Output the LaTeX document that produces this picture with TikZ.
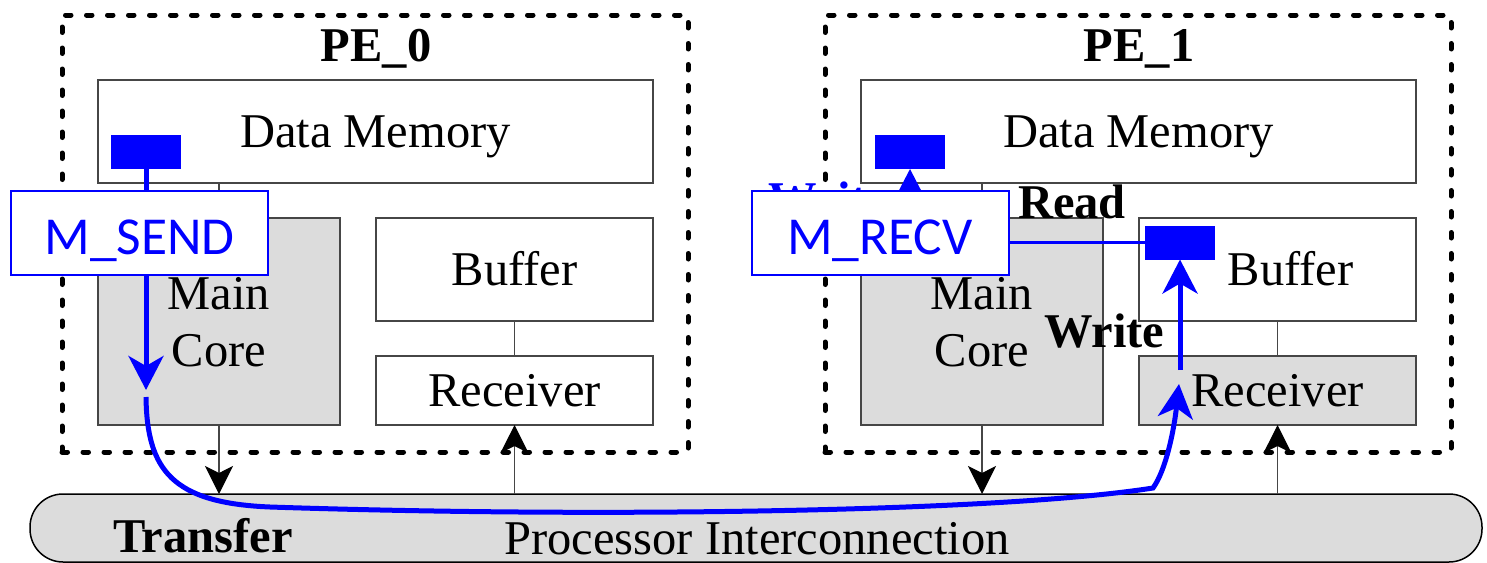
\documentclass[tikz,border=0pt]{standalone}
\usepackage{fontspec}
\setmainfont{Liberation Serif}
\newfontfamily\calibrifont{Carlito}
\usetikzlibrary{arrows.meta}
\definecolor{coregray}{RGB}{220,220,220}
\definecolor{edgegray}{RGB}{70,70,70}
\definecolor{msgblue}{RGB}{0,0,255}

\begin{document}
\begin{tikzpicture}[x=0.5pt,y=-0.5pt,
  every node/.style={inner sep=0pt, outer sep=0pt},
  txt/.style={font=\fontsize{24.25}{28.5}\selectfont},
  btxt/.style={font=\fontsize{24.25}{28.5}\selectfont\bfseries},
  unitbox/.style={draw=edgegray, line width=0.75pt, txt, text height=16pt, text depth=0pt},
  corebox/.style={draw=edgegray, fill=coregray, line width=0.75pt, txt, align=center, text depth=0pt},
  pebox/.style={draw=black, line width=2.5pt, dash pattern=on 2.75pt off 7.75pt, line cap=round},
  busbox/.style={draw=black, fill=coregray, line width=0.75pt, rounded corners=16.5pt},
  wire/.style={draw=edgegray, line width=0.6pt},
  wirearrow/.style={wire, -{Stealth[length=14pt, width=14pt, inset=3.5pt, black]}},
  flow/.style={draw=msgblue, line width=2.5pt},
  flowarrow/.style={flow, -{Stealth[length=17pt, width=17.5pt, inset=5pt]}},
  slot/.style={fill=msgblue, minimum width=35pt, minimum height=17pt},
  apibox/.style={draw=msgblue, fill=white, line width=1pt, text=msgblue,
    font=\fontsize{26.7}{30}\calibrifont, text height=21.5pt, text depth=0pt,
    minimum width=128.5pt, minimum height=42pt}
]
\useasboundingbox (0,0) rectangle (1487,562);

% processing element frames
\node[pebox, minimum width=313pt, minimum height=218.5pt] (pe0) at (375,233.5) {};
\node[pebox, minimum width=313pt, minimum height=218.5pt] (pe1) at (1138,233.5) {};
\node[btxt, anchor=base] (pe0title) at (376,61) {PE\_0};
\node[btxt, anchor=base] (pe1title) at (1139,61) {PE\_1};

% interconnection bus
\node[busbox, minimum width=726pt, minimum height=34pt] (bus) at (756,528) {};
\node[btxt, anchor=base west] (transfer) at (113,552) {Transfer};
\node[txt, anchor=base] (buslabel) at (757,554) {Processor Interconnection};

% PE_0 blocks
\node[unitbox, fill=white, minimum width=277.5pt, minimum height=51.5pt] (dm0) at (375.5,131.5) {Data Memory};
\node[corebox, minimum width=121pt, minimum height=103.5pt] (mc0) at (219,321.5) {Main\\Core};
\node[unitbox, fill=white, minimum width=138.5pt, minimum height=51.5pt] (bf0) at (514.5,269.5) {Buffer};
\node[unitbox, fill=white, minimum width=138.5pt, minimum height=34.5pt] (rc0) at (514.5,390.5) {Receiver};

% PE_1 blocks
\node[unitbox, fill=white, minimum width=277.5pt, minimum height=51.5pt] (dm1) at (1138.5,131.5) {Data Memory};
\node[corebox, minimum width=121pt, minimum height=103.5pt] (mc1) at (982,321.5) {Main\\Core};
\node[unitbox, fill=white, minimum width=138.5pt, minimum height=51.5pt] (bf1) at (1277.5,269.5) {\hspace*{13pt}Buffer};
\node[unitbox, fill=coregray, minimum width=138.5pt, minimum height=34.5pt] (rc1) at (1277.5,390.5) {Receiver};

% internal links and bus links
\draw[wire] (mc0.north |- dm0.south) -- (mc0.north);
\draw[wire] (bf0.south) -- (rc0.north);
\draw[wire] (mc1.north |- dm1.south) -- (mc1.north);
\draw[wire] (bf1.south) -- (rc1.north);
\draw[wirearrow] (mc0.south) -- (mc0.south |- bus.north);
\draw[wirearrow] (rc0.south |- bus.north) -- (rc0.south);
\draw[wirearrow] (mc1.south) -- (mc1.south |- bus.north);
\draw[wirearrow] (rc1.south |- bus.north) -- (rc1.south);

% message slots
\node[slot] (s0) at (146,152) {};
\node[slot] (d1) at (910,152) {};
\node[slot] (b1) at (1180,242.5) {};

% message path
\coordinate (sendtip) at (146,390);
\coordinate (sendout) at (146,397);
\coordinate (recvtip) at (1179,384);
\coordinate (recvout) at (1180,370);
\coordinate (recvmid) at (880,233);
\draw[flowarrow] (s0.south) -- (sendtip);
\draw[flowarrow] (sendout) .. controls (147,470) and (172,503) .. (270,507)
  .. controls (600,518) and (1000,512) .. (1153,488)
  .. controls (1166,470) and (1174,430) .. (recvtip);
\draw[flowarrow] (recvout) -- (b1.south);

\node[btxt, text=msgblue, anchor=base west] (wblue) at (768,215) {Write};
\draw[flowarrow] (d1.south |- recvmid) -- (d1.south);
\node[apibox] (recv) at (recvmid) {M\_RECV};
\draw[flow, line width=1.5pt] (recv.east |- b1.west) -- (b1.west);
\node[apibox] (send) at (139.5,233) {M\_SEND};

\node[btxt, anchor=base west] (read) at (1018,218) {Read};
\node[btxt, anchor=base west] (write) at (1044,347) {Write};
\end{tikzpicture}
\end{document}
